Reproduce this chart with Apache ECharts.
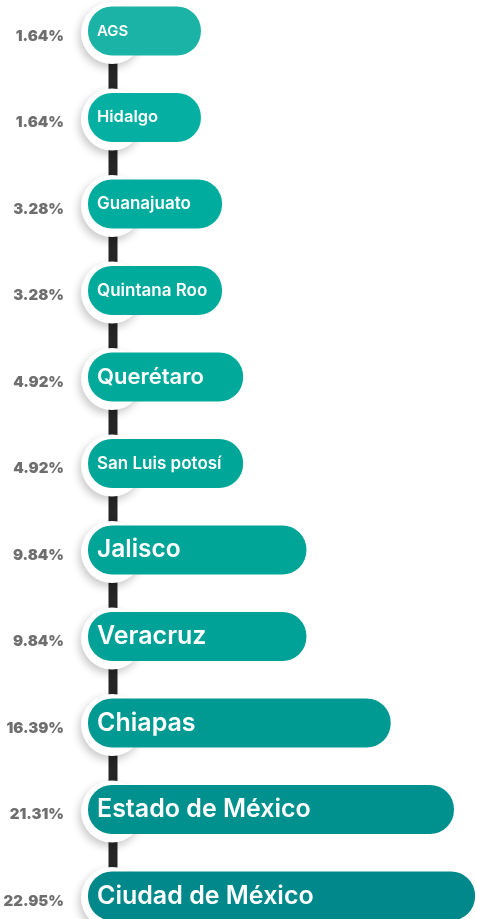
<!DOCTYPE html>
<html>
<head>
<meta charset="utf-8">
<script src="https://cdn.jsdelivr.net/npm/echarts@6/dist/echarts.min.js"></script>
<style>
  html, body { margin: 0; padding: 0; background: #ffffff; }
  #main { width: 477px; height: 919px; }
</style>
</head>
<body>
<div id="main"></div>
<script>
// data
const states = ['AGS', 'Hidalgo', 'Guanajuato', 'Quintana Roo', 'Querétaro', 'San Luis potosí',
  'Jalisco', 'Veracruz', 'Chiapas', 'Estado de México', 'Ciudad de México'];
const shares = [1.64, 1.64, 3.28, 3.28, 4.92, 4.92, 9.84, 9.84, 16.39, 21.31, 22.95];

// styles
const barColors = ['#1ab3a6', '#05b0a2', '#00ac9d', '#00ab9c', '#00a99a', '#00a799',
  '#00a598', '#00a196', '#009a92', '#00918e', '#00888a'];
const labelSizes = [15, 16.5, 17, 17, 22, 17, 24.5, 25, 25, 25, 25];
const xMin = -7.14;
const barH = 49;

const chart = echarts.init(document.getElementById('main'));

chart.setOption({
  animation: false,
  grid: {left: 88, right: 0, top: 31, bottom: 23},
  xAxis: {type: 'value', min: xMin, max: 23.1, show: false},
  yAxis: {type: 'category', data: states, inverse: true, boundaryGap: false, show: false},
  series: [{
    type: 'custom',
    encode: {x: 0, y: 1},
    data: shares.map((v, i) => [v, states[i]]),
    renderItem(params, api) {
      const i = params.dataIndex;
      const start = api.coord([xMin, i]);
      const end = api.coord([api.value(0), i]);
      const x0 = start[0];
      const cy = start[1];
      const children = [];
      if (i < states.length - 1) {
        const next = api.coord([xMin, i + 1]);
        children.push({
          type: 'rect',
          shape: {x: x0 + 20.5, y: cy, width: 9, height: next[1] - cy},
          style: {fill: '#262626'}
        });
      }
      children.push({
        type: 'circle',
        shape: {cx: x0 + 24, cy: cy + 2, r: 31},
        style: {
          fill: '#ffffff',
          shadowBlur: 9,
          shadowOffsetX: -2,
          shadowOffsetY: 4,
          shadowColor: 'rgba(0,0,0,0.22)'
        }
      });
      children.push({
        type: 'rect',
        shape: {x: x0, y: cy - barH / 2, width: end[0] - x0, height: barH, r: 24},
        style: {fill: barColors[i]}
      });
      children.push({
        type: 'text',
        x: x0 + 9,
        y: cy,
        style: {
          text: states[i],
          fill: '#ffffff',
          font: '600 ' + labelSizes[i] + 'px Inter, sans-serif',
          align: 'left',
          verticalAlign: 'middle'
        }
      });
      children.push({
        type: 'text',
        x: x0 - 24,
        y: cy + 5,
        style: {
          text: api.value(0).toFixed(2) + '%',
          fill: '#6e6e6e',
          font: '900 15px Inter, sans-serif',
          align: 'right',
          verticalAlign: 'middle'
        }
      });
      return {type: 'group', children};
    }
  }]
});
</script>
</body>
</html>
